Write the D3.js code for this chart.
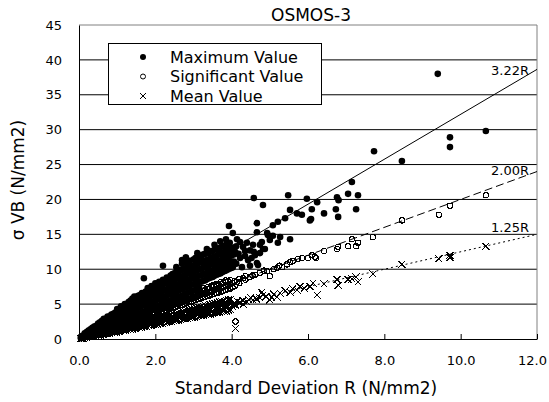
<!DOCTYPE html>
<html>
<head>
<meta charset="utf-8">
<script src="https://cdn.jsdelivr.net/npm/d3@7"></script>
<style>
body { margin: 0; background: #fff; }
text { font-family: "DejaVu Sans", "Noto Sans CJK JP", sans-serif; fill: #000; }
</style>
</head>
<body>
<div id="chart"></div>
<script>
// values, [R, list of sigma VB at that R]
var xTicks = [0, 2, 4, 6, 8, 10, 12];
var yTicks = [0, 5, 10, 15, 20, 25, 30, 35, 40, 45];
var lineFactors = [3.22, 2.00, 1.25];
var lineLabels = ["3.22R", "2.00R", "1.25R"];
var legendLabels = ["Maximum Value", "Significant Value", "Mean Value"];

var maxCols = [
[0.05,[0.1,0.3]],[0.1,[0.2,0.5]],[0.15,[0.35,0.8]],[0.2,[0.5,1.0]],[0.25,[0.6,1.2]],[0.3,[0.7,1.4]],
[0.35,[0.8,1.6]],[0.4,[0.9,1.8]],[0.45,[1.0,1.9]],[0.5,[1.15,1.7,2.2]],[0.55,[1.3,2.0,2.4]],[0.6,[1.4,2.0,2.6]],
[0.65,[1.5,2.3,2.9]],[0.7,[1.6,2.2,2.9]],[0.75,[1.7,2.5,3.2]],[0.8,[1.85,2.5,3.2]],[0.85,[1.95,2.7,3.5]],
[0.9,[2.1,2.8,3.6]],[0.95,[2.2,3.0,3.8]],[1.0,[2.3,3.1,3.9,4.3]],[1.05,[2.4,3.3,4.1]],[1.1,[2.5,3.3,4.1,4.7]],
[1.15,[2.6,3.5,4.4]],[1.2,[2.8,3.6,4.4,5.0]],[1.25,[2.9,3.8,4.7]],[1.3,[3.0,3.9,4.7,5.3]],[1.35,[3.1,4.0,4.9,5.5]],
[1.4,[3.2,4.1,5.0,5.8]],[1.45,[3.3,4.3,5.2,6.1]],[1.5,[3.45,4.3,5.2,6.0]],[1.55,[3.6,4.5,5.4,6.2]],
[1.6,[3.7,4.6,5.5,6.3]],[1.65,[3.8,4.8,5.7,6.6]],[1.7,[3.9,4.8,5.7,6.6,8.7]],[1.75,[4.0,5.0,5.9,6.8]],
[1.8,[4.15,5.0,5.9,6.8,7.3]],[1.85,[4.3,5.2,6.1,7.0]],[1.9,[4.4,5.3,6.2,7.1,7.6]],[1.95,[4.5,5.4,6.3,7.2]],
[2.0,[4.6,5.5,6.4,7.3,8.0]],[2.05,[4.7,5.7,6.6,7.5]],[2.1,[4.8,5.7,6.6,7.5,8.2]],[2.15,[4.95,5.9,6.8,7.7]],
[2.2,[5.1,6.0,6.9,7.8,8.5,10.5]],[2.25,[5.2,6.1,7.0,8.0]],[2.3,[5.3,6.2,7.1,8.0,8.8]],[2.35,[5.4,6.4,7.3,8.2]],
[2.4,[5.5,6.4,7.3,8.2,9.1]],[2.45,[5.6,6.6,7.5,8.4,9.3]],[2.5,[5.75,6.7,7.6,8.5,9.4]],
[2.55,[5.9,6.8,7.7,8.7,9.6,10.3]],[2.6,[6.0,6.9,7.8,8.7,9.6]],[2.65,[6.1,7.1,8.0,8.9,9.9]],
[2.7,[6.2,7.1,8.0,9.0,9.9,10.8,11.3]],[2.75,[6.3,7.3,8.2,9.1,10.1]],[2.8,[6.45,7.4,8.3,9.2,10.1,11.0,11.7]],
[2.85,[6.6,7.5,8.4,9.4,10.3]],[2.9,[6.7,7.6,8.5,9.4,10.3,11.2]],[2.95,[6.8,7.8,8.7,9.6,10.5]],
[3.0,[6.9,7.8,8.7,9.6,10.5,11.4]],[3.05,[7.0,8.0,8.9,9.8,10.7,11.6]],[3.1,[7.15,8.1,9.0,9.9,10.8,11.7,12.3]],
[3.15,[7.3,8.2,9.1,10.0,11.0,12.0]],[3.2,[8.2,9.1,10.1,11.0,11.9]],[3.25,[8.3,9.3,10.2,11.1,12.1]],
[3.3,[8.4,9.3,10.3,11.2,12.2]],[3.35,[8.55,9.5,10.4,11.3,12.3,12.9]],[3.4,[8.7,9.6,10.5,11.4,12.3]],
[3.45,[8.8,9.7,10.7,11.6,12.6]],[3.5,[8.9,9.8,10.7,11.7,12.6]],[3.55,[9.05,10.0,10.9,11.8,12.8,13.5]],
[3.6,[9.2,10.1,11.0,11.9,12.9]],[3.65,[9.3,10.2,11.2,12.1,13.0]],[3.7,[9.4,10.3,11.2,12.2,13.1,14.0]],
[3.75,[9.55,10.5,11.4,12.3,13.3]],[3.8,[9.7,10.6,11.5,12.4,13.3]],[3.85,[9.8,10.7,11.7,12.6,13.5,14.3]],
[3.9,[9.95,10.9,11.8,12.7,13.6]],[3.95,[10.1,11.0,11.9,12.8,13.8]],[4.0,[10.2,11.1,12.0,13.0]],
[3.93,[16.2]],[4.03,[15.2,10.3]],[4.06,[11.1,12.1,13.1]],[4.09,[12.5]],[4.12,[10.8,13.3]],[4.14,[14.3]],
[4.18,[12.2]],[4.22,[13.9,11.6]],[4.27,[10.3]],[4.3,[13.2]],[4.35,[11.9,12.6]],[4.4,[13.8]],[4.43,[11.3]],
[4.48,[12.7,10.5]],[4.52,[11.6]],[4.56,[13.5]],[4.58,[20.2,12.5]],[4.61,[12.0]],[4.66,[10.9,15.3,16.6]],
[4.69,[10.6]],[4.74,[12.3,13.5]],[4.79,[13.9]],[4.82,[12.9,19.2]],[4.87,[12.9]],[4.93,[15.2]],[4.95,[14.9]],
[5.0,[14.2]],[5.08,[16.3,14.8]],[5.21,[16.8,13.8]],[5.27,[14.6]],[5.4,[17.3]],[5.48,[20.6]],[5.53,[18.5,14.3]],
[5.71,[18.0]],[5.84,[17.8]],[5.97,[20.1]],[6.05,[17.0]],[6.08,[17.2]],[6.1,[18.6]],[6.24,[19.6]],[6.42,[18.0]],
[6.73,[18.6]],[6.76,[20.3]],[6.79,[17.5]],[6.8,[19.9]],[7.05,[20.8]],[7.15,[22.5]],[7.26,[18.6]],[7.31,[20.6]],
[7.73,[26.9]],[8.46,[25.5]],[9.4,[38.0]],[9.72,[28.9,27.5]],[10.66,[29.8]]
];

var sigCols = [
[0.05,[0.1]],[0.1,[0.2]],[0.15,[0.3]],[0.2,[0.4]],[0.25,[0.5]],[0.3,[0.55,0.65]],[0.36,[0.68,0.8]],
[0.42,[0.78,0.9]],[0.48,[0.88,1.0,1.1]],[0.54,[0.98,1.12,1.22]],[0.6,[1.1,1.22,1.35]],[0.66,[1.2,1.32,1.46]],
[0.72,[1.32,1.44,1.6]],[0.78,[1.42,1.56,1.72]],[0.84,[1.52,1.66,1.85]],[0.9,[1.64,1.78,1.96]],
[0.96,[1.74,1.9,2.1]],[1.02,[1.86,2.02,2.22]],[1.08,[1.96,2.14,2.34]],[1.14,[2.08,2.24,2.46]],
[1.2,[2.18,2.36,2.58]],[1.26,[2.28,2.48,2.72]],[1.32,[2.4,2.6,2.84]],[1.38,[2.5,2.72,2.96]],
[1.44,[2.62,2.84,3.1]],[1.5,[2.72,2.95,3.22]],[1.56,[2.84,3.08,3.34]],[1.62,[2.94,3.2,3.46]],
[1.68,[3.06,3.3,3.6]],[1.74,[3.16,3.42,3.72]],[1.8,[3.28,3.54,3.84]],[1.86,[3.38,3.66,3.96]],
[1.92,[3.5,3.78,4.1]],[1.98,[3.6,3.9,4.22]],[2.04,[3.72,4.02,4.34,4.6]],[2.1,[3.82,4.14,4.46]],
[2.16,[3.94,4.26,4.58,4.88]],[2.22,[4.04,4.38,4.7]],[2.28,[4.16,4.5,4.84,5.15]],[2.34,[4.26,4.6,4.96]],
[2.4,[4.38,4.72,5.08,5.42]],[2.46,[4.48,4.84,5.2]],[2.52,[4.6,4.96,5.34,5.7]],[2.58,[4.7,5.08,5.46]],
[2.64,[4.82,5.2,5.58,5.96]],[2.7,[4.92,5.32,5.7]],[2.76,[5.04,5.44,5.84,6.22]],[2.82,[5.14,5.56,5.96]],
[2.88,[5.26,5.68,6.1,6.5]],[2.94,[5.36,5.8,6.22]],[3.0,[5.48,5.92,6.36,6.76]],[3.06,[5.58,6.04,6.48]],
[3.12,[5.7,6.16,6.62,7.02]],[3.18,[5.8,6.28,6.74]],[3.24,[5.92,6.4,6.88,7.3]],[3.3,[6.02,6.52,7.0]],
[3.36,[6.14,6.64,7.14,7.4]],[3.42,[6.24,6.76,7.26]],[3.48,[6.36,6.88,7.4,7.65]],[3.54,[6.46,7.0,7.52]],
[3.6,[6.58,7.12,7.66,7.9]],[3.66,[6.68,7.24,7.78]],[3.72,[6.8,7.36,7.92,8.15]],[3.78,[6.9,7.48,8.04]],
[3.84,[7.02,7.6,8.18,8.4]],[3.9,[7.12,7.72,8.3]],[3.96,[7.24,7.84,8.44]],
[4.02,[7.4,8.0]],[4.08,[7.6,8.3]],[4.1,[2.5]],[4.14,[8.2]],[4.2,[8.0,8.6]],[4.3,[8.7]],[4.36,[8.5,9.0]],
[4.48,[8.9]],[4.55,[9.1]],[4.61,[9.2]],[4.74,[9.5]],[4.85,[9.8]],[4.93,[9.7]],[5.0,[9.0]],[5.1,[10.0]],
[5.19,[10.2]],[5.25,[10.5]],[5.32,[10.3]],[5.45,[10.7]],[5.53,[11.0]],[5.6,[11.2]],[5.74,[11.5]],[5.84,[11.6]],
[6.0,[11.6]],[6.1,[12.0]],[6.18,[11.8]],[6.21,[11.6]],[6.42,[12.6]],[6.76,[12.9]],[6.79,[13.2]],[7.05,[13.3]],
[7.26,[13.3]],[7.31,[13.8]],[7.15,[14.3]],[7.7,[14.6]],[8.46,[17.0]],[9.43,[17.8]],[9.72,[19.1]],[10.66,[20.6]]
];

var meanCols = [
[0.05,[0.05]],[0.1,[0.1]],[0.15,[0.18]],[0.2,[0.22,0.28]],[0.26,[0.28,0.36]],[0.32,[0.35,0.45]],
[0.38,[0.42,0.52]],[0.44,[0.48,0.6]],[0.5,[0.54,0.62,0.72]],[0.56,[0.6,0.7,0.8]],[0.62,[0.66,0.78,0.88]],
[0.68,[0.72,0.85,0.97]],[0.74,[0.78,0.92,1.06]],[0.8,[0.84,1.0,1.14]],[0.86,[0.9,1.07,1.23]],
[0.92,[0.97,1.14,1.31]],[0.98,[1.03,1.22,1.4]],[1.04,[1.09,1.3,1.48]],[1.1,[1.16,1.37,1.57]],
[1.16,[1.22,1.44,1.66]],[1.22,[1.28,1.52,1.74]],[1.28,[1.34,1.6,1.83]],[1.34,[1.4,1.67,1.92]],
[1.4,[1.47,1.74,2.0]],[1.46,[1.53,1.82,2.09]],[1.52,[1.6,1.9,2.18]],[1.58,[1.66,1.97,2.26]],
[1.64,[1.72,2.05,2.35]],[1.7,[1.78,2.12,2.44]],[1.76,[1.85,2.2,2.52]],[1.82,[1.91,2.27,2.6]],
[1.88,[1.97,2.35,2.7]],[1.94,[2.04,2.42,2.78]],[2.0,[2.1,2.5,2.87]],[2.06,[2.16,2.57,2.95]],
[2.12,[2.22,2.65,3.04]],[2.18,[2.29,2.72,3.12]],[2.24,[2.35,2.8,3.21]],[2.3,[2.41,2.87,3.3]],
[2.36,[2.48,2.95,3.38]],[2.42,[2.54,3.02,3.47]],[2.48,[2.6,3.1,3.55]],[2.54,[2.67,3.17,3.64]],
[2.6,[2.73,3.25,3.72]],[2.66,[2.8,3.32,3.81]],[2.72,[2.86,3.4,3.9]],[2.78,[2.92,3.47,3.98]],
[2.84,[2.98,3.55,4.07]],[2.9,[3.05,3.62,4.15]],[2.96,[3.11,3.7,4.24]],[3.02,[3.17,3.77,4.32]],
[3.08,[3.24,3.85,4.41]],[3.14,[3.3,3.92,4.5]],[3.2,[3.36,4.0,4.58]],[3.26,[3.42,4.07,4.67]],
[3.32,[3.49,4.15,4.75]],[3.38,[3.55,4.22,4.84]],[3.44,[3.61,4.3,4.93]],[3.5,[3.68,4.37,5.01]],
[3.56,[3.74,4.45,5.1]],[3.62,[3.8,4.52,5.18]],[3.68,[3.86,4.6,5.27]],[3.74,[3.93,4.67,5.35]],
[3.8,[3.99,4.75,5.44]],[3.86,[4.05,4.82,5.52]],[3.92,[4.12,4.9,5.61]],[3.98,[4.18,4.97,5.7]],
[4.03,[4.6]],[4.05,[5.0]],[4.1,[1.5,4.9]],[4.15,[5.4]],[4.22,[5.2]],[4.3,[5.0,5.5]],[4.4,[5.3]],[4.45,[5.6]],
[4.5,[5.9]],[4.56,[5.6]],[4.65,[5.7]],[4.74,[5.9]],[4.79,[6.7]],[4.82,[6.3]],[4.9,[6.1]],[5.0,[5.6]],
[5.05,[6.0]],[5.1,[6.4]],[5.19,[6.0]],[5.27,[6.6]],[5.4,[6.9]],[5.53,[6.7]],[5.6,[7.2]],[5.71,[7.0]],
[5.79,[7.5]],[5.9,[7.3]],[6.05,[7.5]],[6.13,[8.0]],[6.24,[6.3]],[6.42,[7.9]],[6.76,[8.5]],[6.79,[7.7]],
[7.05,[8.5]],[7.15,[8.6]],[7.26,[8.9]],[7.31,[8.2]],[7.7,[9.3]],[8.46,[10.7]],[9.43,[11.5]],[9.72,[11.7,12.0]],
[10.66,[13.3]]
];

function flatten(cols) {
    return cols.flatMap(c => c[1].map(v => [c[0], v]));
}
var maxData = flatten(maxCols);
var sigData = flatten(sigCols);
var meanData = flatten(meanCols);

var svgWidth = 549;
var svgHeight = 402;
var plot = { left: 79, right: 537, top: 25, bottom: 339 };

var svg = d3.select("#chart")
    .append("svg")
    .attr("width", svgWidth)
    .attr("height", svgHeight);

var x = d3.scaleLinear().domain([0, 12]).range([plot.left, plot.right]);
var y = d3.scaleLinear().domain([0, 45]).range([plot.bottom, plot.top]);

// horizontal grid
svg.append("g").selectAll("line")
    .data(yTicks.filter(d => d > 0 && d < 45))
    .enter()
    .append("line")
    .attr("x1", plot.left)
    .attr("x2", plot.right)
    .attr("y1", d => y(d))
    .attr("y2", d => y(d))
    .attr("stroke", "#000")
    .attr("stroke-width", 1);

// grey frame top / right
svg.append("path")
    .attr("d", `M${plot.left},${y(45)}H${plot.right}V${plot.bottom}`)
    .attr("fill", "none")
    .attr("stroke", "#808080");

// axes
var bottomAxis = d3.axisBottom(x)
    .tickValues(xTicks)
    .tickSizeInner(-5)
    .tickSizeOuter(0)
    .tickPadding(17)
    .tickFormat(d3.format(".1f"));
var xAxis = svg.append("g")
    .attr("transform", `translate(0, ${plot.bottom})`)
    .call(bottomAxis);
xAxis.selectAll("text").style("font-size", "13px");
xAxis.selectAll(".tick").filter(d => d === 12).select("text").attr("dx", "-5");

var leftAxis = d3.axisLeft(y)
    .tickValues(yTicks)
    .tickSize(0)
    .tickPadding(17)
    .tickFormat(d3.format("d"));
var yAxis = svg.append("g")
    .attr("transform", `translate(${plot.left}, 0)`)
    .call(leftAxis);
yAxis.selectAll("text").style("font-size", "13px");
svg.selectAll(".domain").attr("stroke", "#000");

// points
var cross = "M-3.5,-3.5L3.5,3.5M-3.5,3.5L3.5,-3.5";

svg.append("g").selectAll("circle")
    .data(maxData)
    .enter()
    .append("circle")
    .attr("cx", d => x(d[0]))
    .attr("cy", d => y(d[1]))
    .attr("r", 3.3)
    .attr("fill", "#000");

svg.append("g").selectAll("circle")
    .data(sigData)
    .enter()
    .append("circle")
    .attr("cx", d => x(d[0]))
    .attr("cy", d => y(d[1]))
    .attr("r", 2.7)
    .attr("fill", "none")
    .attr("stroke", "#000")
    .attr("stroke-width", 1.1)
    .attr("shape-rendering", "crispEdges");

svg.append("g").selectAll("path")
    .data(meanData)
    .enter()
    .append("path")
    .attr("transform", d => `translate(${x(d[0])}, ${y(d[1])})`)
    .attr("d", cross)
    .attr("fill", "none")
    .attr("stroke", "#000")
    .attr("stroke-width", 1.1)
    .attr("shape-rendering", "crispEdges");

// ratio lines
var dashes = [null, "8,4", "2,3"];
var labelY = [75, 175, 232];
lineFactors.forEach(function(k, i) {
    svg.append("line")
        .attr("x1", x(0))
        .attr("y1", y(0))
        .attr("x2", x(12))
        .attr("y2", y(12 * k))
        .attr("stroke", "#000")
        .attr("stroke-width", 1)
        .attr("stroke-dasharray", dashes[i]);
    svg.append("text")
        .attr("x", 529)
        .attr("y", labelY[i])
        .attr("text-anchor", "end")
        .style("font-size", "13px")
        .text(lineLabels[i]);
});

// legend
var legend = svg.append("g");
legend.append("rect")
    .attr("x", 108.5)
    .attr("y", 43.5)
    .attr("width", 213)
    .attr("height", 61)
    .attr("fill", "#fff")
    .attr("stroke", "#000");
legendLabels.forEach(function(label, i) {
    var ly = 57 + i * 19.5;
    if (i === 0) {
        legend.append("circle").attr("cx", 143).attr("cy", ly).attr("r", 3).attr("fill", "#000");
    } else if (i === 1) {
        legend.append("circle").attr("cx", 143).attr("cy", ly).attr("r", 2.5)
            .attr("fill", "none").attr("stroke", "#000");
    } else {
        legend.append("path").attr("transform", `translate(143, ${ly})`)
            .attr("d", "M-3,-3L3,3M-3,3L3,-3").attr("stroke", "#000");
    }
    legend.append("text")
        .attr("x", 170)
        .attr("y", ly + 5.5)
        .style("font-size", "16px")
        .text(label);
});

// titles
svg.append("text")
    .attr("x", 311)
    .attr("y", 21)
    .attr("text-anchor", "middle")
    .style("font-size", "17px")
    .text("OSMOS-3");

svg.append("text")
    .attr("x", 306)
    .attr("y", 394)
    .attr("text-anchor", "middle")
    .style("font-size", "17px")
    .text("Standard Deviation R (N/mm2)");

svg.append("text")
    .attr("transform", "translate(24, 180) rotate(-90)")
    .attr("text-anchor", "middle")
    .style("font-size", "17px")
    .text("σ VB (N/mm2)");
</script>
</body>
</html>
